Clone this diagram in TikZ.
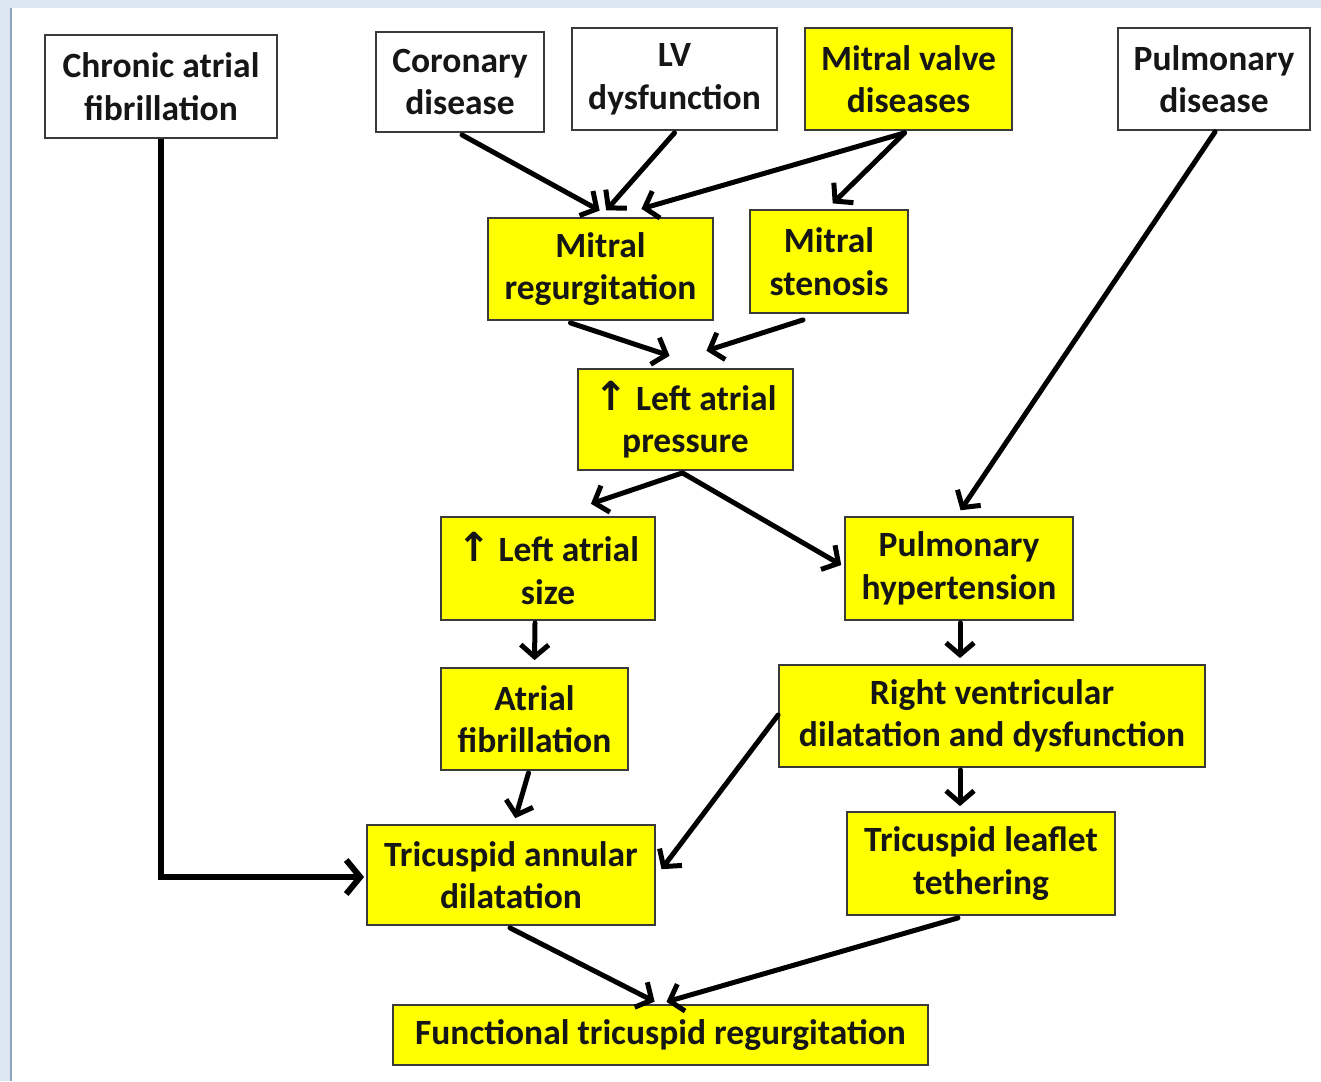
\documentclass[tikz,border=0pt]{standalone}
\usepackage{fontspec}
\setmainfont{Carlito}
\newfontfamily\symfont{DejaVu Sans}
\usetikzlibrary{arrows.meta,calc}
\definecolor{hl}{HTML}{FFFF00}
\definecolor{frameblue}{HTML}{DCE6F2}
\definecolor{frameline}{HTML}{8EA4BF}
\definecolor{boxline}{HTML}{3A3A3A}
\definecolor{txt}{HTML}{161616}
\newcommand{\uparr}{{\symfont\fontsize{40}{40}\selectfont ↑}}
\tikzset{
  base/.style={draw=boxline, line width=1.8pt, align=center, inner sep=0pt,
    font=\fontsize{35.5}{42.6}\selectfont\bfseries, text=txt},
  wbox/.style={base, fill=white},
  ybox/.style={base, fill=hl},
  arr/.style={draw=black, line width=5pt, line cap=round,
    -{Straight Barb[length=12pt,width=28pt,line width=5pt]}, shorten >=1pt},
  bigarr/.style={draw=black, line width=6.5pt,
    -{Straight Barb[length=14pt,width=34pt,line width=6pt]}},
}
\begin{document}
\begin{tikzpicture}[x=1pt,y=-1pt]
\useasboundingbox (0,0) rectangle (1321,1081);
\fill[frameblue] (0,0) rectangle (1321,1081);
\fill[white] (11,8) rectangle (1321,1081);
\draw[frameline, line width=1.2pt] (11,8) -- (11,1081);

\node[wbox, minimum width=232pt, minimum height=103pt] (caf) at (161,86.5) {Chronic atrial\\fibrillation};
\node[wbox, minimum width=168pt, minimum height=100pt] (cor) at (460,82) {Coronary\\disease};
\node[wbox, minimum width=205pt, minimum height=102pt] (lv) at (674.5,79) {LV\\dysfunction};
\node[ybox, minimum width=207pt, minimum height=102pt] (mvd) at (908.5,79) {Mitral valve\\diseases};
\node[wbox, minimum width=192pt, minimum height=102pt] (pd) at (1214,79) {Pulmonary\\disease};
\node[ybox, minimum width=225pt, minimum height=102pt] (mr) at (600.5,269) {Mitral\\regurgitation};
\node[ybox, minimum width=158pt, minimum height=103pt] (ms) at (829,261.5) {Mitral\\stenosis};
\node[ybox, minimum width=215pt, minimum height=101pt] (lap) at (685.5,419.5) {\uparr\ Left atrial\\pressure};
\node[ybox, minimum width=214pt, minimum height=103pt] (las) at (548,568.5) {\uparr\ Left atrial\\size};
\node[ybox, minimum width=228pt, minimum height=103pt] (ph) at (959,568.5) {Pulmonary\\hypertension};
\node[ybox, minimum width=187pt, minimum height=102pt] (af) at (534.5,719) {Atrial\\fibrillation};
\node[ybox, minimum width=426pt, minimum height=102pt] (rv) at (992,716) {Right ventricular\\dilatation and dysfunction};
\node[ybox, minimum width=288pt, minimum height=100pt] (tad) at (511,875) {Tricuspid annular\\dilatation};
\node[ybox, minimum width=268pt, minimum height=103pt] (tlt) at (981,863.5) {Tricuspid leaflet\\tethering};
\node[ybox, minimum width=535pt, minimum height=60pt] (ftr) at (660.5,1035) {Functional tricuspid regurgitation};

\draw[arr] ($(cor.south)+(2,2)$) -- ($(mr.north)+(0,-6)$);
\draw[arr] ($(lv.south)+(0,2)$) -- ($(mr.north)+(5,-6)$);
\draw[arr] ($(mvd.south)+(-4,2)$) -- ($(mr.north)+(40,-8)$);
\draw[arr] ($(mvd.south)+(-4,2)$) -- ($(ms.north)+(3,-5)$);
\draw[arr] ($(mr.south)+(-30,2)$) -- ($(lap.north)+(-15,-12)$);
\draw[arr] ($(ms.south)+(-26,6)$) -- ($(lap.north)+(20,-17)$);
\draw[arr] ($(lap.south)+(-3,2)$) -- ($(las.north)+(42,-12)$);
\draw[arr] ($(lap.south)+(-3,2)$) -- ($(ph.west)+(-2,-3)$);
\draw[arr] ($(pd.south)+(1,1)$) -- ($(ph.north)+(1,-5)$);
\draw[arr] ($(las.south)+(-13,2)$) -- ($(af.north)+(0,-6)$);
\draw[arr] ($(ph.south)+(1,2)$) -- ($(rv.north)+(-32,-5)$);
\draw[arr] ($(af.south)+(-6,2)$) -- ($(tad.north)+(4,-5)$);
\draw[arr] ($(rv.west)+(0,-1)$) -- ($(tad.east)+(5,-5)$);
\draw[arr] ($(rv.south)+(-32,2)$) -- ($(tlt.north)+(-21,-4)$);
\draw[arr] ($(tad.south)+(-1,2)$) -- ($(ftr.north)+(-5,-2)$);
\draw[arr] ($(tlt.south)+(-23,2)$) -- ($(ftr.north)+(5,-2)$);
\draw[bigarr] (caf.south) |- ($(tad.west)+(-2,2)$);
\end{tikzpicture}
\end{document}
